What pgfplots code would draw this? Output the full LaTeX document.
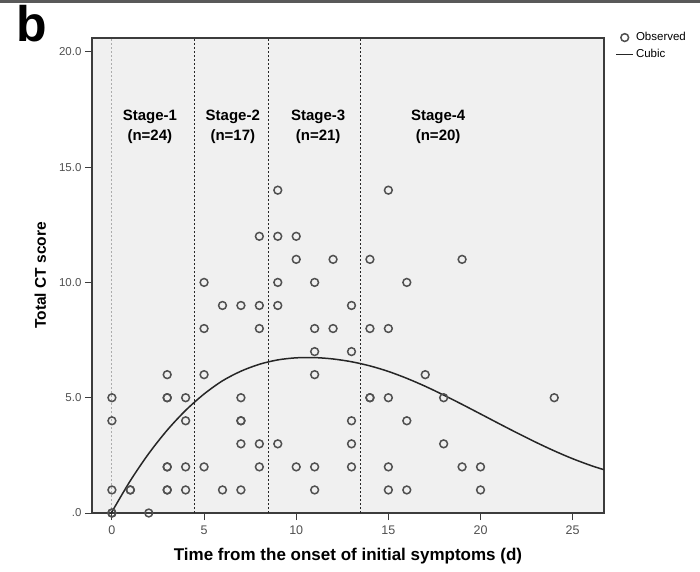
\documentclass[border=0pt]{standalone}
\usepackage{fontspec}
\setmainfont{Liberation Sans}
\usepackage{pgfplots}
\pgfplotsset{compat=1.18}
\definecolor{bgcol}{RGB}{240,240,240}
\definecolor{ptcol}{RGB}{80,80,80}
\definecolor{framecol}{RGB}{60,60,60}
\definecolor{tickcol}{RGB}{80,80,80}
\begin{document}
\begin{tikzpicture}
\path[use as bounding box] (0,0) rectangle (700pt,571pt);
\fill[gray!70!black] (0,567.5pt) rectangle (700pt,571pt);
\node[anchor=base west, font=\bfseries\fontsize{50}{50}\selectfont, inner sep=0pt] at (16pt,529pt) {b};
\begin{axis}[
  at={(92pt,58pt)}, anchor=south west,
  scale only axis, width=512pt, height=475pt,
  xmin=-1.08, xmax=26.7, ymin=0, ymax=20.6,
  axis background/.style={fill=bgcol},
  axis line style={draw=framecol, line width=1.1pt},
  xtick={0,5,10,15,20,25},
  ytick={0,5,10,15,20},
  yticklabels={.0,5.0,10.0,15.0,20.0},
  tick align=outside, tick pos=left,
  major tick length=7pt,
  tick style={draw=framecol, line width=1pt},
  /pgf/number format/assume math mode=true,
  xticklabel style={font=\fontsize{12.5}{13}\selectfont, text=tickcol, yshift=-2pt},
  yticklabel style={font=\fontsize{11.5}{12}\selectfont, text=tickcol},
  xlabel={Time from the onset of initial symptoms (d)},
  ylabel={Total CT score},
  xlabel style={font=\bfseries\fontsize{17}{18}\selectfont, at={(axis description cs:0.5,-0.09)}, anchor=center},
  ylabel style={font=\bfseries\fontsize{15.5}{16}\selectfont, at={(axis description cs:-0.101,0.5)}, anchor=center},
  legend style={at={(axis description cs:1.02,1.018)}, anchor=north west, draw=none, fill=none,
    font=\fontsize{11.5}{12.5}\selectfont, row sep=3pt, inner sep=1pt},
  legend cell align=left,
]
% stage separators
\addplot[forget plot, draw=gray!65, line width=1pt, dash pattern=on 2pt off 2pt] coordinates {(0,0) (0,20.6)};
\addplot[forget plot, draw=gray!30!black, line width=1pt, dash pattern=on 2pt off 2pt] coordinates {(4.5,0) (4.5,20.6)};
\addplot[forget plot, draw=gray!30!black, line width=1pt, dash pattern=on 2pt off 2pt] coordinates {(8.5,0) (8.5,20.6)};
\addplot[forget plot, draw=gray!30!black, line width=1pt, dash pattern=on 2pt off 2pt] coordinates {(13.5,0) (13.5,20.6)};
% observed
\addplot[only marks, mark=o, mark size=3.9pt, mark options={draw=ptcol, line width=1.5pt}] coordinates {
(9,14) (15,14)
(8,12) (9,12) (10,12)
(10,11) (12,11) (14,11) (19,11)
(5,10) (9,10) (11,10) (16,10)
(6,9) (7,9) (8,9) (9,9) (13,9)
(5,8) (8,8) (11,8) (12,8) (14,8) (15,8)
(11,7) (13,7)
(3,6) (5,6) (11,6) (17,6)
(0,5) (3,5) (3,5) (4,5) (7,5) (14,5) (14,5) (15,5) (18,5) (24,5)
(0,4) (4,4) (7,4) (7,4) (13,4) (16,4)
(7,3) (8,3) (9,3) (13,3) (18,3)
(3,2) (3,2) (4,2) (5,2) (8,2) (10,2) (11,2) (13,2) (15,2) (19,2) (20,2)
(0,1) (1,1) (1,1) (3,1) (3,1) (4,1) (6,1) (7,1) (11,1) (15,1) (16,1) (20,1)
(0,0) (0,0) (2,0)
};
\addlegendentry{Observed}
% cubic fit
\addplot[draw=black!85, line width=1.5pt, smooth] coordinates {
(-0.1,-0.095) (0,0.05) (1,1.402) (2,2.580) (3,3.593) (4,4.451) (5,5.161) (6,5.733)
(7,6.150) (8,6.450) (9,6.640) (10,6.730) (11,6.740) (12,6.680) (13,6.560)
(14,6.380) (15,6.140) (16,5.840) (17,5.496) (18,5.114) (19,4.711) (20,4.296)
(21,3.878) (22,3.466) (23,3.069) (24,2.695) (25,2.354) (26,2.056) (26.7,1.877)
};
\addlegendentry{Cubic}
% stage labels
\node[align=center, font=\bfseries\fontsize{15}{20}\selectfont] at (axis cs:2.06,16.75) {Stage-1\\(n=24)};
\node[align=center, font=\bfseries\fontsize{15}{20}\selectfont] at (axis cs:6.56,16.75) {Stage-2\\(n=17)};
\node[align=center, font=\bfseries\fontsize{15}{20}\selectfont] at (axis cs:11.19,16.75) {Stage-3\\(n=21)};
\node[align=center, font=\bfseries\fontsize{15}{20}\selectfont] at (axis cs:17.7,16.75) {Stage-4\\(n=20)};
\end{axis}
\end{tikzpicture}
\end{document}
